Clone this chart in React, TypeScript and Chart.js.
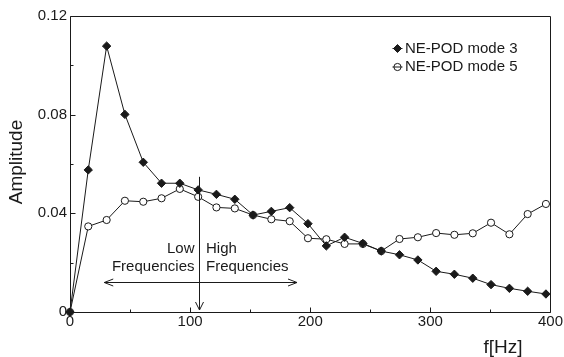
import React, { useEffect, useRef } from "react";
import { Chart, registerables } from "chart.js";

Chart.register(...registerables);

const freqs = [0, 15.2, 30.5, 45.7, 61.0, 76.2, 91.4, 106.7, 121.9, 137.2, 152.4, 167.6, 182.9, 198.1, 213.4, 228.6, 243.8, 259.1, 274.3, 289.6, 304.8, 320.0, 335.3, 350.5, 365.8, 381.0, 396.2];
const mode3 = [0, 0.0576, 0.1078, 0.0801, 0.0607, 0.0522, 0.0522, 0.0495, 0.0477, 0.0457, 0.0393, 0.0408, 0.0423, 0.0358, 0.0268, 0.0303, 0.0278, 0.0247, 0.0232, 0.0211, 0.0165, 0.0153, 0.0137, 0.0111, 0.0096, 0.0084, 0.0073];
const mode5 = [0, 0.0347, 0.0373, 0.0451, 0.0447, 0.0461, 0.0499, 0.0467, 0.0424, 0.042, 0.0393, 0.0376, 0.0368, 0.0299, 0.0295, 0.0276, 0.0276, 0.0247, 0.0296, 0.0303, 0.032, 0.0313, 0.0319, 0.0362, 0.0315, 0.0397, 0.0438];
const seriesNames = ["NE-POD mode 3", "NE-POD mode 5"];
const xTicks = [0, 100, 200, 300, 400];
const xMinorTicks = [50, 150, 250, 350];
const yTicks = [0, 0.04, 0.08, 0.12];
const yMinorTicks = [0.02, 0.06, 0.1];
const xTitle = "f[Hz]";
const yTitle = "Amplitude";
const splitFreq = 107;
const arrowTop = 0.0548;
const spanFrom = 28.5;
const spanTo = 189;
const spanLevel = 0.0123;
const lowText = ["Low", "Frequencies"];
const highText = ["High", "Frequencies"];
const textLevels = [0.0255, 0.0182];

const FONT = '"Liberation Sans", Arial, Helvetica, sans-serif';
const INK = "#1a1a1a";

const overlay = {
  id: "overlay",
  afterDraw(chart: any) {
    const { ctx, chartArea: a, scales } = chart;
    const xs = scales.x;
    const ys = scales.y;
    ctx.save();
    ctx.strokeStyle = INK;
    ctx.lineWidth = 1;
    const L = Math.round(a.left) + 0.5;
    const R = Math.round(a.right) + 0.5;
    const T = Math.round(a.top) + 0.5;
    const B = Math.round(a.bottom) + 0.5;
    ctx.beginPath();
    ctx.rect(L, T, R - L, B - T);
    ctx.stroke();

    // inward ticks
    ctx.beginPath();
    xTicks.forEach((v) => {
      const px = Math.round(xs.getPixelForValue(v)) + 0.5;
      ctx.moveTo(px, B);
      ctx.lineTo(px, B - 5);
    });
    xMinorTicks.forEach((v) => {
      const px = Math.round(xs.getPixelForValue(v)) + 0.5;
      ctx.moveTo(px, B);
      ctx.lineTo(px, B - 3);
    });
    yTicks.forEach((v) => {
      const py = Math.round(ys.getPixelForValue(v)) + 0.5;
      ctx.moveTo(L, py);
      ctx.lineTo(L + 5, py);
    });
    yMinorTicks.forEach((v) => {
      const py = Math.round(ys.getPixelForValue(v)) + 0.5;
      ctx.moveTo(L, py);
      ctx.lineTo(L + 3, py);
    });
    ctx.stroke();

    // vertical split arrow
    const ax = Math.round(xs.getPixelForValue(splitFreq)) + 0.5;
    const aTop = ys.getPixelForValue(arrowTop);
    const aTip = ys.getPixelForValue(0) - 2;
    ctx.beginPath();
    ctx.moveTo(ax, aTop);
    ctx.lineTo(ax, aTip);
    ctx.moveTo(ax - 4, aTip - 8);
    ctx.lineTo(ax, aTip);
    ctx.lineTo(ax + 4, aTip - 8);
    ctx.stroke();

    // horizontal double arrow
    const hy = Math.round(ys.getPixelForValue(spanLevel)) + 0.5;
    const hx1 = xs.getPixelForValue(spanFrom);
    const hx2 = xs.getPixelForValue(spanTo);
    ctx.beginPath();
    ctx.moveTo(hx1, hy);
    ctx.lineTo(hx2, hy);
    ctx.moveTo(hx1 + 9, hy - 3.5);
    ctx.lineTo(hx1, hy);
    ctx.lineTo(hx1 + 9, hy + 3.5);
    ctx.moveTo(hx2 - 9, hy - 3.5);
    ctx.lineTo(hx2, hy);
    ctx.lineTo(hx2 - 9, hy + 3.5);
    ctx.stroke();

    // annotation text
    ctx.fillStyle = INK;
    ctx.font = `15px ${FONT}`;
    ctx.textBaseline = "middle";
    ctx.textAlign = "right";
    lowText.forEach((t, i) => ctx.fillText(t, ax - 5, ys.getPixelForValue(textLevels[i])));
    ctx.textAlign = "left";
    highText.forEach((t, i) => ctx.fillText(t, ax + 6.5, ys.getPixelForValue(textLevels[i])));

    // legend
    const lx = a.right - 153;
    const rows = [a.top + 32.5, a.top + 51];
    ctx.lineWidth = 1;
    rows.forEach((ry, i) => {
      ctx.beginPath();
      ctx.moveTo(lx - 5, ry);
      ctx.lineTo(lx + 5, ry);
      ctx.stroke();
      ctx.beginPath();
      if (i === 0) {
        ctx.moveTo(lx, ry - 4);
        ctx.lineTo(lx + 4, ry);
        ctx.lineTo(lx, ry + 4);
        ctx.lineTo(lx - 4, ry);
        ctx.closePath();
        ctx.fillStyle = INK;
        ctx.fill();
        ctx.stroke();
      } else {
        ctx.arc(lx, ry, 3.6, 0, Math.PI * 2);
        ctx.stroke();
      }
      ctx.fillStyle = INK;
      ctx.textAlign = "left";
      ctx.fillText(seriesNames[i], lx + 7.5, ry);
    });

    // axis titles
    ctx.font = `19px ${FONT}`;
    ctx.textAlign = "center";
    ctx.fillText(xTitle, 503, 348);
    ctx.save();
    ctx.translate(17, 162);
    ctx.rotate(-Math.PI / 2);
    ctx.fillText(yTitle, 0, 0);
    ctx.restore();
    ctx.restore();
  },
};

export default function App() {
  const ref = useRef<HTMLCanvasElement | null>(null);
  useEffect(() => {
    if (!ref.current) return;
    const chart = new Chart(ref.current, {
      type: "scatter",
      data: {
        datasets: [
          {
            label: seriesNames[0],
            data: freqs.map((f, i) => ({ x: f, y: mode3[i] })),
            showLine: true,
            borderColor: INK,
            borderWidth: 1,
            backgroundColor: INK,
            pointStyle: "rectRot",
            pointRadius: 4.2,
            pointBorderWidth: 1,
            pointBorderColor: INK,
            pointBackgroundColor: INK,
            clip: false,
          } as any,
          {
            label: seriesNames[1],
            data: freqs.map((f, i) => ({ x: f, y: mode5[i] })),
            showLine: true,
            borderColor: INK,
            borderWidth: 1,
            backgroundColor: "#ffffff",
            pointStyle: "circle",
            pointRadius: 3.6,
            pointBorderWidth: 1,
            pointBorderColor: INK,
            pointBackgroundColor: "#ffffff",
            clip: false,
          } as any,
        ],
      },
      options: {
        animation: false,
        responsive: false,
        maintainAspectRatio: false,
        layout: { padding: { left: 0, top: 16, right: 12, bottom: 0 } },
        plugins: { legend: { display: false }, tooltip: { enabled: false } },
        scales: {
          x: {
            type: "linear",
            min: 0,
            max: 400,
            afterFit: (s: any) => { s.height = 45; },
            afterBuildTicks: (s: any) => { s.ticks = xTicks.map((v) => ({ value: v })); },
            grid: { display: false, drawOnChartArea: false, drawTicks: false },
            border: { display: false },
            ticks: {
              color: INK,
              padding: 1,
              maxRotation: 0,
              autoSkip: false,
              font: { family: FONT, size: 15 },
              callback: (v: any) => String(v),
            },
          },
          y: {
            type: "linear",
            min: 0,
            max: 0.12,
            afterFit: (s: any) => { s.width = 70; },
            afterBuildTicks: (s: any) => { s.ticks = yTicks.map((v) => ({ value: v })); },
            grid: { display: false, drawOnChartArea: false, drawTicks: false },
            border: { display: false },
            ticks: {
              color: INK,
              padding: 3,
              autoSkip: false,
              font: { family: FONT, size: 15 },
              callback: (v: any) => (Number(v) === 0 ? "0" : Number(v).toFixed(2)),
            },
          },
        },
      },
      plugins: [overlay],
    });
    return () => chart.destroy();
  }, []);
  return (
    <div style={{ position: "fixed", left: 0, top: 0, width: 564, height: 357, background: "#fff" }}>
      <canvas ref={ref} width={564} height={357} style={{ width: 564, height: 357, display: "block" }} />
    </div>
  );
}
